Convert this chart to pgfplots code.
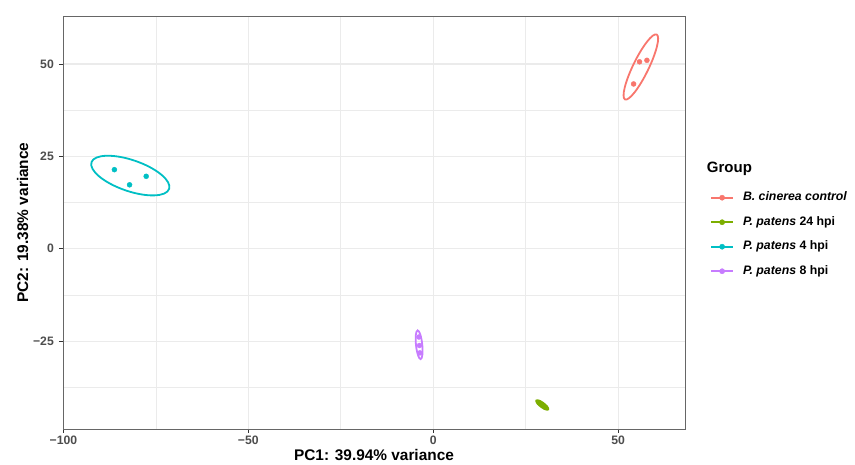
\documentclass[border=0pt]{standalone}
\usepackage{fontspec}
\setmainfont{Liberation Sans}
\usepackage{pgfplots}
\pgfplotsset{compat=1.18}
\definecolor{cR}{HTML}{F8766D}
\definecolor{cG}{HTML}{7CAE00}
\definecolor{cC}{HTML}{00BFC4}
\definecolor{cP}{HTML}{C77CFF}
\definecolor{gridc}{HTML}{EBEBEB}
\definecolor{tickc}{HTML}{333333}
\definecolor{labc}{HTML}{4D4D4D}
\begin{document}
\begin{tikzpicture}
\useasboundingbox (0,0) rectangle (855pt,465pt);
\begin{axis}[
  at={(63pt,36pt)}, anchor=south west,
  width=622pt, height=413pt, scale only axis,
  xmin=-100.1, xmax=68.1, ymin=-48.8, ymax=63.0,
  xtick={-100,-50,0,50}, xticklabels={−100,−50,0,50},
  ytick={-25,0,25,50}, yticklabels={−25,0,25,50},
  minor xtick={-75,-25,25}, minor ytick={-37.5,-12.5,12.5,37.5},
  grid=both,
  major grid style={gridc, line width=1.1pt},
  minor grid style={gridc, line width=0.6pt},
  tick align=outside, xtick pos=bottom, ytick pos=left,
  major tick length=4pt, minor tick length=0pt,
  tick style={tickc, line width=0.9pt},
  axis line style={black!60, line width=0.9pt},
  ticklabel style={font=\bfseries\fontsize{12.2}{14}\selectfont, text=labc},
  xticklabel style={anchor=north, inner sep=0pt, yshift=-3pt},
  yticklabel style={anchor=east, inner sep=0pt, xshift=-5pt},
  xlabel={PC1: 39.94\% variance},
  ylabel={PC2: 19.38\% variance},
  every axis x label/.style={at={(rel axis cs:0.5,0)}, anchor=center, yshift=-26pt, font=\bfseries\fontsize{15.4}{18}\selectfont},
  every axis y label/.style={at={(axis cs:-111,7.1)}, rotate=90, anchor=center, font=\bfseries\fontsize{15.4}{18}\selectfont},
  clip=false,
  legend image code/.code={\draw[#1, line width=1.8pt] (0pt,0pt) -- (22pt,0pt); \fill[#1] (11pt,0pt) circle (2.6pt);},
  legend style={draw=none, fill=none, at={(rel axis cs:1.0354,0.471)}, anchor=west,
    font=\bfseries\fontsize{12.3}{15}\selectfont, row sep=12.5pt, column sep=9pt,
    nodes={inner sep=0pt, text height=9pt, text depth=3pt}},
  legend cell align=left,
]
% B. cinerea control
\addplot[forget plot, only marks, mark=*, mark size=2.5pt, color=cR] coordinates {(55.8,50.6) (57.8,51.0) (54.2,44.6)};
\draw[cR, line width=1.8pt, rotate around={64:(axis cs:56.16,49.2)}] (axis cs:56.16,49.2) ellipse [x radius=9.76, y radius=2.1];
% P. patens 24 hpi
\addplot[forget plot, only marks, mark=*, mark size=2.5pt, color=cG] coordinates {(28.7,-41.7) (29.5,-42.3) (30.3,-42.9)};
\draw[cG, line width=1.8pt, rotate around={-37:(axis cs:29.5,-42.3)}] (axis cs:29.5,-42.3) ellipse [x radius=2.0, y radius=0.6];
% P. patens 4 hpi
\addplot[forget plot, only marks, mark=*, mark size=2.5pt, color=cC] coordinates {(-86.2,21.4) (-77.6,19.6) (-82.1,17.3)};
\draw[cC, line width=1.8pt, rotate around={-19:(axis cs:-81.9,19.8)}] (axis cs:-81.9,19.8) ellipse [x radius=11.1, y radius=4.2];
% P. patens 8 hpi
\addplot[forget plot, only marks, mark=*, mark size=2.5pt, color=cP] coordinates {(-3.85,-23.9) (-3.7,-26.2) (-3.6,-28.2)};
\draw[cP, line width=1.8pt, rotate around={96:(axis cs:-3.8,-26.0)}] (axis cs:-3.8,-26.0) ellipse [x radius=3.9, y radius=0.85];

\addlegendimage{cR}\addlegendentry{\textit{B. cinerea control}}
\addlegendimage{cG}\addlegendentry{\textit{P. patens} 24 hpi}
\addlegendimage{cC}\addlegendentry{\textit{P. patens} 4 hpi}
\addlegendimage{cP}\addlegendentry{\textit{P. patens} 8 hpi}

\node[anchor=west, inner sep=0pt, font=\bfseries\fontsize{15}{18}\selectfont] at (rel axis cs:1.035,0.6295) {Group};
\end{axis}
\end{tikzpicture}
\end{document}
